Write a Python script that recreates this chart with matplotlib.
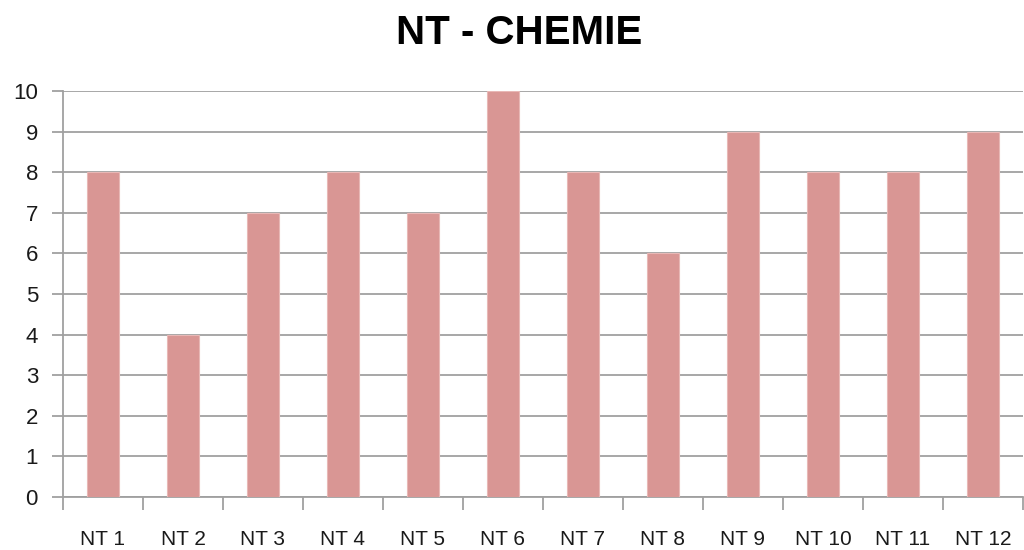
import matplotlib
matplotlib.use("Agg")
import matplotlib.pyplot as plt
import numpy as np

categories = ["NT 1", "NT 2", "NT 3", "NT 4", "NT 5", "NT 6",
              "NT 7", "NT 8", "NT 9", "NT 10", "NT 11", "NT 12"]
values = [8, 4, 7, 8, 7, 10, 8, 6, 9, 8, 8, 9]
title = "NT - CHEMIE"

plt.rcParams['font.family'] = ['Liberation Sans', 'DejaVu Sans']

fig = plt.figure(figsize=(10.24, 5.5), dpi=100)
ax = fig.add_axes([63/1024, 1-497/550, 960/1024, 406/550])

x = np.arange(len(categories))
ax.bar(x, values, width=0.4, color="#D99694", edgecolor="#E8B8B6", linewidth=0.8, zorder=3)

ax.set_xlim(-0.5, len(categories) - 0.5)
ax.set_ylim(0, 10)
ax.set_yticks(range(0, 11))
ax.yaxis.grid(True, color="#A0A0A0", linewidth=1.3, zorder=0)
ax.set_axisbelow(True)

ax.set_xticks(x)
ax.set_xticklabels(categories, fontsize=15, color="#1a1a1a")
ax.set_xticks(np.arange(-0.5, len(categories) + 0.5, 1), minor=True)
ax.tick_params(axis="x", which="major", length=0, pad=24)
ax.tick_params(axis="x", which="minor", length=9, width=1.3, color="#A0A0A0", direction="out")
ax.tick_params(axis="y", length=8, width=1.3, color="#A0A0A0", direction="out",
               labelsize=16, labelcolor="#1a1a1a", pad=10)

for s in ["top", "right"]:
    ax.spines[s].set_visible(False)
for s in ["left", "bottom"]:
    ax.spines[s].set_color("#A0A0A0")
    ax.spines[s].set_linewidth(1.3)

fig.text(0.507, 1 - 33/550, title, ha="center", va="center",
         fontsize=29, fontweight="bold", color="black")

fig.savefig("out.png", dpi=100)
